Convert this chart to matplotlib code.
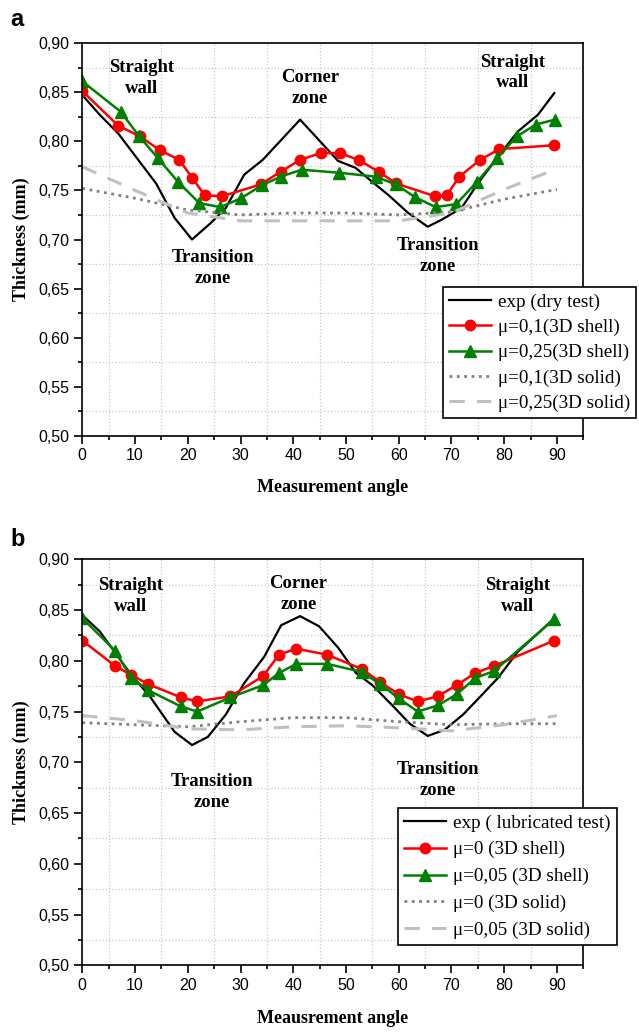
import matplotlib.pyplot as plt
from matplotlib.ticker import MultipleLocator

# ---- panel a : dry test ----
a_exp_x = [0, 3.3, 6.8, 14, 17.5, 20.8, 24.4, 27.2, 30.7, 34.2, 41.3, 48.5, 51.8,
           54.9, 58.1, 61.8, 65.5, 68.1, 71.9, 75.0, 78.8, 82.6, 86.4, 89.5]
a_exp_y = [0.847, 0.827, 0.808, 0.757, 0.722, 0.700, 0.717, 0.732, 0.766, 0.781, 0.822, 0.780, 0.773,
           0.759, 0.745, 0.727, 0.713, 0.720, 0.732, 0.757, 0.784, 0.810, 0.827, 0.849]

a_shell1_x = [0, 6.8, 10.9, 14.7, 18.4, 20.8, 23.2, 26.5, 33.8, 37.6, 41.3, 45.2, 48.8, 52.4,
              56.2, 59.5, 66.9, 69.1, 71.5, 75.4, 79.1, 89.5]
a_shell1_y = [0.851, 0.816, 0.805, 0.791, 0.781, 0.763, 0.745, 0.744, 0.756, 0.769, 0.781, 0.788, 0.788, 0.781,
              0.769, 0.757, 0.744, 0.745, 0.764, 0.781, 0.792, 0.796]

a_shell2_x = [0, 7.3, 10.8, 14.3, 18.1, 22.2, 26.2, 30.1, 34.0, 37.6, 41.6, 48.6, 55.6,
              59.5, 63.1, 67.0, 70.9, 74.9, 78.7, 82.4, 86.0, 89.6]
a_shell2_y = [0.861, 0.830, 0.805, 0.783, 0.759, 0.737, 0.733, 0.742, 0.755, 0.764, 0.771, 0.768, 0.764,
              0.756, 0.743, 0.733, 0.736, 0.759, 0.783, 0.805, 0.817, 0.822]

a_solid_x = [0, 10, 20, 30, 40, 50, 60, 70, 80, 90]
a_solid1_y = [0.752, 0.742, 0.730, 0.725, 0.727, 0.727, 0.725, 0.728, 0.741, 0.751]
a_solid2_y = [0.774, 0.750, 0.727, 0.719, 0.719, 0.719, 0.719, 0.727, 0.751, 0.772]

a_labels = ['exp (dry test)', 'μ=0,1(3D shell)', 'μ=0,25(3D shell)',
            'μ=0,1(3D solid)', 'μ=0,25(3D solid)']

# ---- panel b : lubricated test ----
b_exp_x = [0, 3.3, 9.3, 12.8, 17.5, 20.8, 23.8, 27.2, 30.7, 34.5, 37.7, 41.3, 44.9, 48.5,
           51.9, 55.0, 58.8, 62.1, 65.5, 68.7, 72.2, 75.7, 78.8, 82.6, 86.4, 89.5]
b_exp_y = [0.845, 0.829, 0.786, 0.765, 0.730, 0.717, 0.725, 0.747, 0.778, 0.804, 0.835, 0.844, 0.834, 0.813,
           0.788, 0.776, 0.756, 0.738, 0.726, 0.732, 0.747, 0.766, 0.783, 0.809, 0.827, 0.842]

b_shell_x = [0, 6.2, 9.3, 12.5, 18.7, 21.8, 28.1, 34.3, 37.3, 40.6, 46.4, 53.0,
             56.5, 60.0, 63.6, 67.4, 71.0, 74.5, 78.1, 89.5]
b_shell1_y = [0.820, 0.795, 0.786, 0.777, 0.764, 0.760, 0.765, 0.785, 0.806, 0.812, 0.806, 0.792,
              0.779, 0.767, 0.760, 0.765, 0.776, 0.788, 0.795, 0.820]
b_shell2_y = [0.842, 0.810, 0.783, 0.771, 0.755, 0.750, 0.764, 0.776, 0.788, 0.797, 0.797, 0.789,
              0.777, 0.763, 0.750, 0.756, 0.767, 0.783, 0.790, 0.841]

b_solid_x = [0, 10, 20, 30, 40, 50, 60, 70, 80, 90]
b_solid1_y = [0.739, 0.737, 0.735, 0.740, 0.744, 0.744, 0.740, 0.737, 0.738, 0.738]
b_solid2_y = [0.746, 0.741, 0.733, 0.732, 0.735, 0.736, 0.734, 0.731, 0.737, 0.746]

b_labels = ['exp ( lubricated test)', 'μ=0 (3D shell)', 'μ=0,05 (3D shell)',
            'μ=0 (3D solid)', 'μ=0,05 (3D solid)']

x_ticks = [0, 10, 20, 30, 40, 50, 60, 70, 80, 90]
y_ticks = [0.50, 0.55, 0.60, 0.65, 0.70, 0.75, 0.80, 0.85, 0.90]
y_ticklabels = ['0,50', '0,55', '0,60', '0,65', '0,70', '0,75', '0,80', '0,85', '0,90']

zone_text = ['Straight\nwall', 'Corner\nzone', 'Transition\nzone']

SERIF = 'Liberation Serif'
SANS = 'Liberation Sans'

fig = plt.figure(figsize=(6.39, 10.33), dpi=100)


def setup(ax, xlabel):
    ax.set_xlim(0, 95)
    ax.set_ylim(0.5, 0.9)
    ax.set_xticks(x_ticks)
    ax.set_xticklabels([str(t) for t in x_ticks], fontfamily=SANS, fontsize=11.5)
    ax.set_yticks(y_ticks)
    ax.set_yticklabels(y_ticklabels, fontfamily=SANS, fontsize=11.5)
    ax.xaxis.set_minor_locator(MultipleLocator(5))
    ax.yaxis.set_minor_locator(MultipleLocator(0.025))
    ax.tick_params(which='major', direction='out', length=6, width=1.2, pad=3, colors='black')
    ax.tick_params(which='minor', direction='out', length=3, width=1.2)
    ax.tick_params(top=False, right=False, which='both')
    ax.grid(which='minor', linestyle=':', color='#c8c8c8', linewidth=0.9)
    ax.grid(which='major', visible=False)
    for s in ax.spines.values():
        s.set_linewidth(1.2)
    ax.set_xlabel(xlabel, fontfamily=SERIF, fontweight='bold', fontsize=13)
    ax.set_ylabel('Thickness (mm)', fontfamily=SERIF, fontweight='bold', fontsize=13)
    ax.xaxis.set_label_coords(0.5, -0.11)
    ax.yaxis.set_label_coords(-0.104, 0.5)


def zone(ax, x, y, s):
    ax.text(x, y, s, ha='center', va='center', fontfamily=SERIF, fontweight='bold',
            fontsize=13.4, linespacing=1.3)


# ---------------- panel a ----------------
ax1 = fig.add_axes([82.3 / 639, 1 - 436 / 1033, 501 / 639, 393 / 1033])
ax1.plot(a_exp_x, a_exp_y, color='black', lw=1.6, label=a_labels[0])
ax1.plot(a_shell1_x, a_shell1_y, color='red', lw=1.8, marker='o', ms=7.5, label=a_labels[1])
ax1.plot(a_shell2_x, a_shell2_y, color='green', lw=1.8, marker='^', ms=8, label=a_labels[2])
ax1.plot(a_solid_x, a_solid1_y, color='#808080', lw=2, linestyle=':', label=a_labels[3])
ax1.plot(a_solid_x, a_solid2_y, color='#c0c0c0', lw=2.2, linestyle=(0, (5, 4)), label=a_labels[4])
setup(ax1, 'Measurement angle')
zone(ax1, 11.3, 0.864, zone_text[0])
zone(ax1, 43.2, 0.854, zone_text[1])
zone(ax1, 24.7, 0.671, zone_text[2])
zone(ax1, 81.6, 0.870, zone_text[0])
zone(ax1, 67.4, 0.683, zone_text[2])
leg1 = ax1.legend(loc='upper left', bbox_to_anchor=(443 / 639, 1 - 287 / 1033),
                  bbox_transform=fig.transFigure, borderaxespad=0, fancybox=False,
                  edgecolor='black', framealpha=1, prop={'family': SERIF, 'size': 13.8},
                  handlelength=2.2, handletextpad=0.35, labelspacing=0.41, borderpad=0.32)
leg1.get_frame().set_linewidth(1.2)
fig.text(10 / 639, 1 - 20 / 1033, 'a', fontfamily=SANS, fontweight='bold', fontsize=17,
         ha='left', va='center')

# ---------------- panel b ----------------
ax2 = fig.add_axes([82.3 / 639, 1 - 965.3 / 1033, 501 / 639, 406 / 1033])
ax2.plot(b_exp_x, b_exp_y, color='black', lw=1.6, label=b_labels[0])
ax2.plot(b_shell_x, b_shell1_y, color='red', lw=1.8, marker='o', ms=7.5, label=b_labels[1])
ax2.plot(b_shell_x, b_shell2_y, color='green', lw=1.8, marker='^', ms=8, label=b_labels[2])
ax2.plot(b_solid_x, b_solid1_y, color='#808080', lw=2, linestyle=':', label=b_labels[3])
ax2.plot(b_solid_x, b_solid2_y, color='#c0c0c0', lw=2.2, linestyle=(0, (5, 4)), label=b_labels[4])
setup(ax2, 'Meausrement angle')
zone(ax2, 9.2, 0.864, zone_text[0])
zone(ax2, 41.0, 0.866, zone_text[1])
zone(ax2, 24.6, 0.671, zone_text[2])
zone(ax2, 82.6, 0.864, zone_text[0])
zone(ax2, 67.4, 0.683, zone_text[2])
leg2 = ax2.legend(loc='upper left', bbox_to_anchor=(398 / 639, 1 - 808 / 1033),
                  bbox_transform=fig.transFigure, borderaxespad=0, fancybox=False,
                  edgecolor='black', framealpha=1, prop={'family': SERIF, 'size': 13.8},
                  handlelength=2.2, handletextpad=0.35, labelspacing=0.49, borderpad=0.32)
leg2.get_frame().set_linewidth(1.2)
fig.text(10 / 639, 1 - 540 / 1033, 'b', fontfamily=SANS, fontweight='bold', fontsize=17,
         ha='left', va='center')

fig.savefig('out.png', dpi=100)
